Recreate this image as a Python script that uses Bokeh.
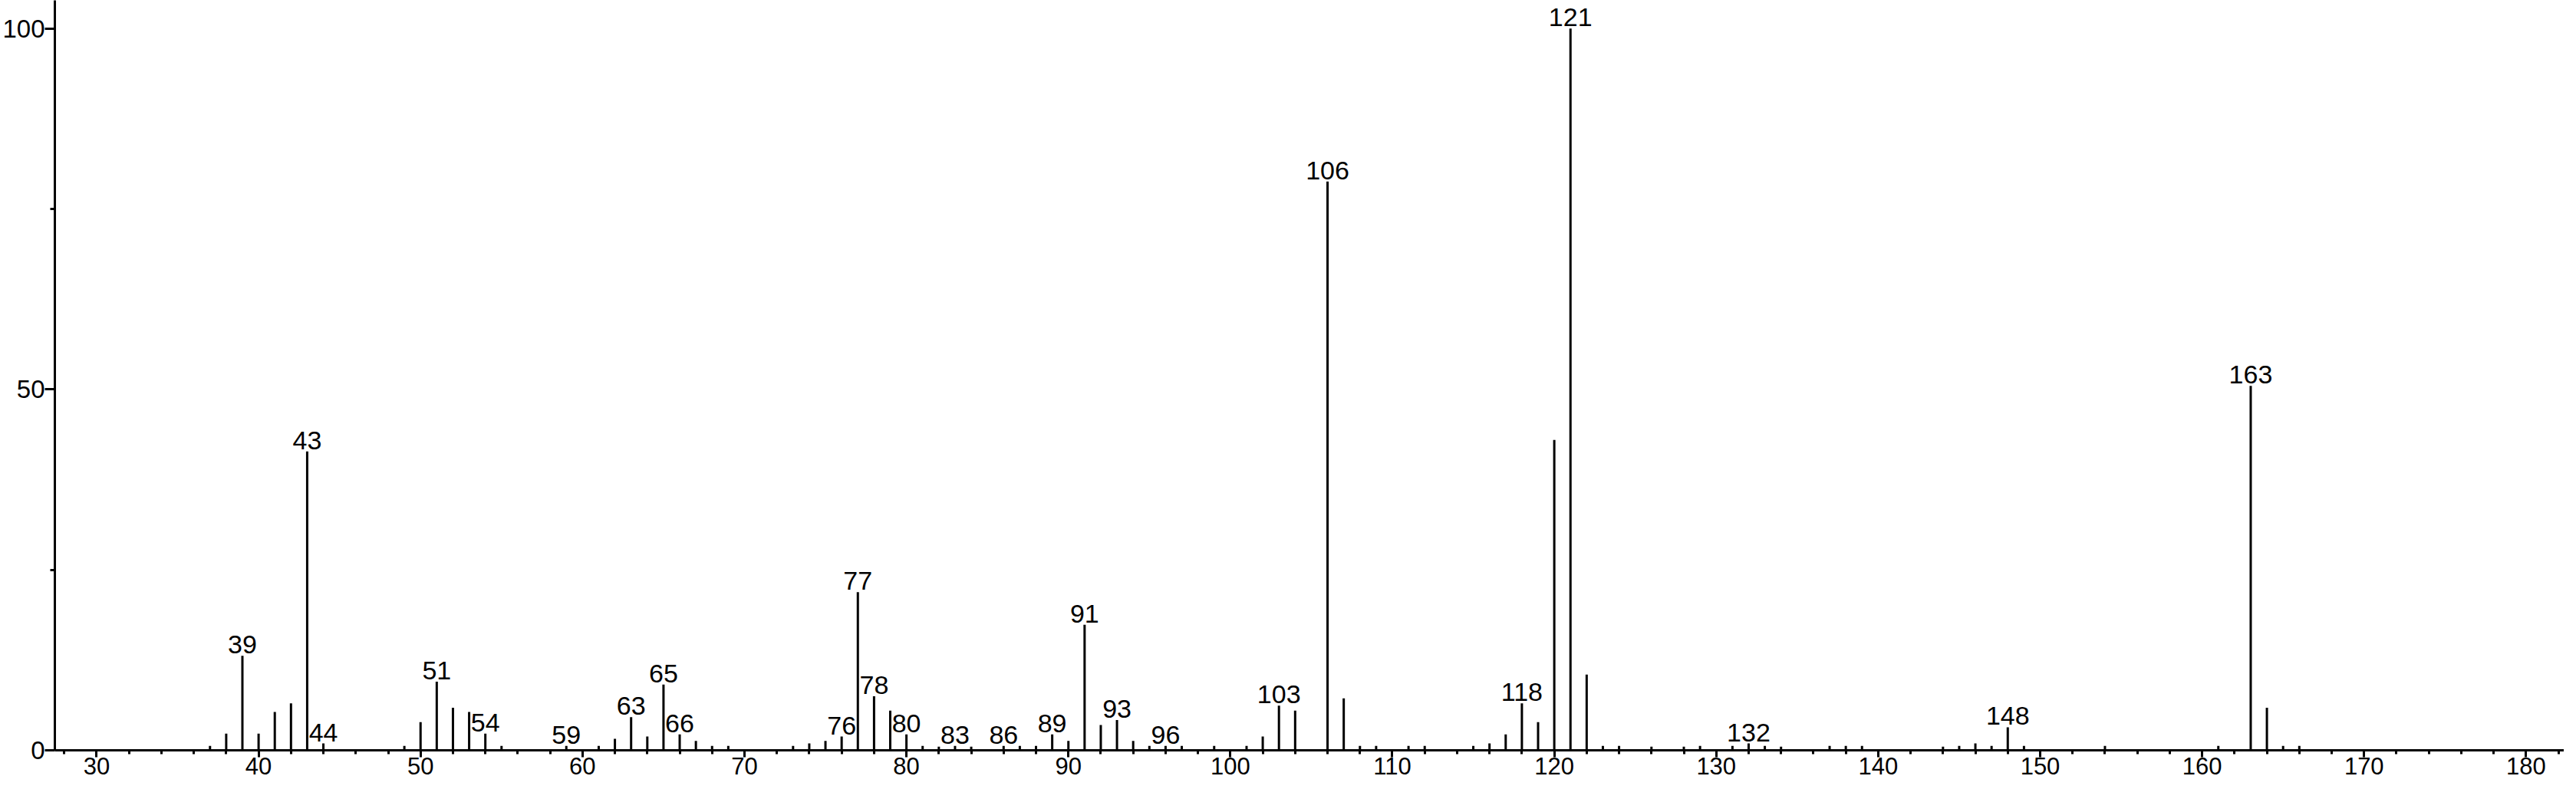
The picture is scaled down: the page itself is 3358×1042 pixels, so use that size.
from bokeh.plotting import figure
from bokeh.models import FixedTicker, ColumnDataSource, Range1d
from bokeh.core.properties import value
from bokeh.embed import file_html
from bokeh.resources import INLINE

# m/z values and relative intensities
mz = [37, 38, 39, 40, 41, 42, 43, 44, 49, 50, 51, 52, 53, 54, 55,
      59, 61, 62, 63, 64, 65, 66, 67, 68, 69, 73, 74, 75, 76, 77, 78, 79, 80,
      81, 82, 83, 84, 86, 87, 88, 89, 90, 91, 92, 93, 94, 95, 96, 97, 99,
      101, 102, 103, 104, 106, 107, 108, 109, 111, 112, 115, 116, 117, 118, 119,
      120, 121, 122, 123, 124, 126, 128, 129, 131, 132, 133, 134, 137, 138, 139,
      144, 145, 146, 147, 148, 149, 154, 161, 163, 164, 165, 166]
intensity = [0.6, 2.3, 13.1, 2.3, 5.3, 6.5, 41.4, 0.95, 0.6, 3.9, 9.5, 5.9, 5.3, 2.3, 0.6,
             0.6, 0.6, 1.6, 4.6, 1.9, 9.1, 2.2, 1.3, 0.6, 0.6, 0.6, 0.95, 1.3, 1.9, 21.9, 7.5, 5.5, 2.2,
             0.6, 0.5, 0.6, 0.5, 0.6, 0.6, 0.6, 2.2, 1.3, 17.4, 3.5, 4.2, 1.3, 0.6, 0.6, 0.6, 0.6,
             0.6, 1.9, 6.2, 5.5, 78.8, 7.2, 0.6, 0.6, 0.6, 0.6, 0.6, 0.95, 2.2, 6.5, 3.9,
             43.0, 100.0, 10.5, 0.6, 0.6, 0.5, 0.5, 0.6, 0.6, 0.95, 0.6, 0.5, 0.6, 0.6, 0.6,
             0.5, 0.6, 0.95, 0.6, 3.2, 0.6, 0.6, 0.6, 50.5, 5.9, 0.6, 0.6]
labeled_mz = [39, 43, 44, 51, 54, 59, 63, 65, 66, 76, 77, 78, 80, 83, 86, 89, 91, 93, 96,
              103, 106, 118, 121, 132, 148, 163]

x_major = [30, 40, 50, 60, 70, 80, 90, 100, 110, 120, 130, 140, 150, 160, 170, 180]
x_minor = list(range(28, 184, 2))
y_major = [0, 50, 100]
y_minor = [25, 75]

lookup = dict(zip(mz, intensity))
peaks = ColumnDataSource(dict(x=mz, y0=[0] * len(mz), y1=intensity))
labels = ColumnDataSource(dict(x=labeled_mz, y=[lookup[m] for m in labeled_mz],
                               t=[str(m) for m in labeled_mz]))

FONT = "Liberation Sans"

p = figure(width=3342, height=1026, output_backend="svg", toolbar_location=None,
           x_range=Range1d(27.42, 182.35), y_range=Range1d(0, 103.9),
           min_border_left=0, min_border_right=0, min_border_top=0, min_border_bottom=48)
p.outline_line_color = None
p.background_fill_color = "white"
p.border_fill_color = "white"
p.xgrid.visible = False
p.ygrid.visible = False

p.segment(x0="x", y0="y0", x1="x", y1="y1", source=peaks, line_color="black", line_width=3)
p.text(x="x", y="y", text="t", source=labels, text_font=value(FONT),
       text_font_size=value("34px"), text_align="center", text_baseline="bottom",
       y_offset=-3, text_color="black")

for ax in (p.xaxis[0], p.yaxis[0]):
    ax.axis_line_width = 3
    ax.axis_line_color = "black"
    ax.major_tick_line_width = 3
    ax.minor_tick_line_width = 3
    ax.major_tick_line_color = "black"
    ax.minor_tick_line_color = "black"
    ax.major_tick_in = 0
    ax.minor_tick_in = 0
    ax.major_label_text_font = FONT
    ax.major_label_text_color = "black"

p.xaxis.major_label_text_font_size = "31px"
p.yaxis.major_label_text_font_size = "33px"

p.xaxis.ticker = FixedTicker(ticks=x_major, minor_ticks=x_minor)
p.xaxis.major_tick_out = 9
p.xaxis.minor_tick_out = 5
p.xaxis.major_label_standoff = 0

p.yaxis.ticker = FixedTicker(ticks=y_major, minor_ticks=y_minor)
p.yaxis.major_tick_out = 13
p.yaxis.minor_tick_out = 6
p.yaxis.major_label_standoff = 0

open("out.html", "w").write(file_html(p, INLINE))
